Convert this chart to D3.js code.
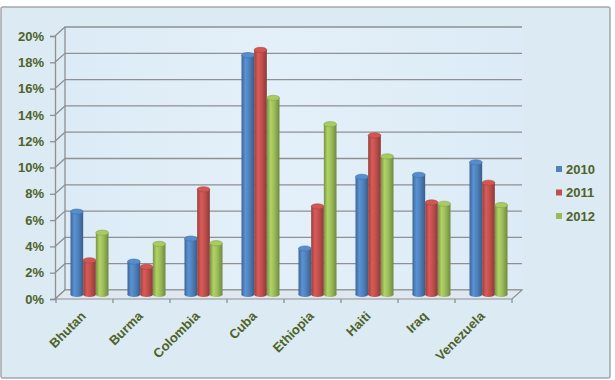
<!DOCTYPE html>
<html>
<head>
<meta charset="utf-8">
<script src="https://cdn.jsdelivr.net/npm/d3@7"></script>
<style>
  body { margin: 0; background: #fff; }
  svg { display: block; font-family: "Liberation Sans", Arial, sans-serif; }
</style>
</head>
<body>
<div id="chart"></div>
<script>
// data
const countries = ["Bhutan", "Burma", "Colombia", "Cuba", "Ethiopia", "Haiti", "Iraq", "Venezuela"];
const years = ["2010", "2011", "2012"];
const v2010 = [0.063, 0.025, 0.0425, 0.182, 0.035, 0.0895, 0.091, 0.1005];
const v2011 = [0.026, 0.021, 0.080, 0.186, 0.067, 0.121, 0.070, 0.085];
const v2012 = [0.047, 0.0385, 0.039, 0.1495, 0.1295, 0.105, 0.069, 0.068];
const yTicks = [0, 0.02, 0.04, 0.06, 0.08, 0.10, 0.12, 0.14, 0.16, 0.18, 0.20];
const colors = ["#4f81bd", "#c0504d", "#9bbb59"];

const series = [v2010, v2011, v2012];
const width = 615, height = 380;
const depth = {dx: 10, dy: -9};   // back-wall offset
const labelColor = "#4f6228";
const gridColor = "#8e9093";

const svg = d3.select("#chart").append("svg")
    .attr("width", width)
    .attr("height", height);

const defs = svg.append("defs");

// chart area
svg.append("rect")
    .attr("x", 1).attr("y", 7)
    .attr("width", 609).attr("height", 371)
    .attr("rx", 2)
    .attr("fill", "#dbeaf3")
    .attr("stroke", "#a5a7a9")
    .attr("stroke-width", 1.5);

const xScale = d3.scaleBand()
    .domain(countries)
    .range([56, 512]);

const yScale = d3.scaleLinear()
    .domain([0, 0.20])
    .range([299, 36]);

const inner = d3.scaleBand()
    .domain(years)
    .range([0, xScale.bandwidth() * 2 / 3]);

// back wall
const wallGrad = defs.append("linearGradient").attr("id", "wall")
    .attr("x1", "0").attr("x2", "1").attr("y1", "0").attr("y2", "0");
wallGrad.append("stop").attr("offset", "0%").attr("stop-color", "#dcebf6");
wallGrad.append("stop").attr("offset", "45%").attr("stop-color", "#e4f0f9");
wallGrad.append("stop").attr("offset", "100%").attr("stop-color", "#dcebf6");

const x0 = xScale.range()[0] - 1, x1 = xScale.range()[1];
svg.append("rect")
    .attr("x", x0 + depth.dx).attr("y", yScale(0.20) + depth.dy)
    .attr("width", x1 - x0)
    .attr("height", yScale(0) - yScale(0.20))
    .attr("fill", "url(#wall)");

// gridlines: side wall diagonal + back wall
const grid = svg.append("g").attr("stroke", gridColor).attr("stroke-width", 1.3).attr("fill", "none");
yTicks.forEach(t => {
    const y = yScale(t);
    grid.append("path")
        .attr("d", `M${x0},${y}L${x0 + depth.dx},${y + depth.dy}L${x1 + depth.dx},${y + depth.dy}`);
});
// side wall back edge
grid.append("line")
    .attr("x1", x0 + depth.dx).attr("x2", x0 + depth.dx)
    .attr("y1", yScale(0.20) + depth.dy).attr("y2", yScale(0) + depth.dy);

// floor
svg.append("path")
    .attr("d", `M${x0},${yScale(0)}L${x1},${yScale(0)}L${x1 + depth.dx},${yScale(0) + depth.dy}L${x0 + depth.dx},${yScale(0) + depth.dy}Z`)
    .attr("fill", "#dfe8ee")
    .attr("stroke", gridColor)
    .attr("stroke-width", 1.2);

// y axis
const yAxis = svg.append("g")
    .attr("transform", `translate(${x0},0)`)
    .call(d3.axisLeft(yScale).tickValues(yTicks).tickFormat(d3.format(".0%")).tickSize(5).tickPadding(6));
yAxis.select(".domain").attr("stroke", gridColor).attr("stroke-width", 1.3);
yAxis.selectAll(".tick line").attr("stroke", gridColor).attr("stroke-width", 1.3);
yAxis.selectAll(".tick text")
    .attr("fill", labelColor)
    .style("font-size", "13px")
    .style("font-weight", "bold")
    .style("font-family", "Liberation Sans, Arial, sans-serif");

// x axis ticks at category boundaries
const xt = svg.append("g").attr("stroke", gridColor).attr("stroke-width", 1.3);
countries.forEach(c => {
    const x = xScale(c);
    xt.append("line").attr("x1", x).attr("x2", x).attr("y1", yScale(0)).attr("y2", yScale(0) + 4);
});
xt.append("line").attr("x1", x1).attr("x2", x1).attr("y1", yScale(0)).attr("y2", yScale(0) + 4);

// cylinder gradients
colors.forEach((col, i) => {
    const g = defs.append("linearGradient").attr("id", "cyl" + i)
        .attr("x1", "0").attr("x2", "1").attr("y1", "0").attr("y2", "0");
    const c = d3.color(col);
    g.append("stop").attr("offset", "0%").attr("stop-color", c.darker(0.7));
    g.append("stop").attr("offset", "30%").attr("stop-color", c.brighter(0.35));
    g.append("stop").attr("offset", "60%").attr("stop-color", col);
    g.append("stop").attr("offset", "100%").attr("stop-color", c.darker(0.9));
});

// bars
const base = yScale(0) + depth.dy / 2;
const bw = inner.bandwidth();
const ry = 2.6;
const bars = svg.append("g");
countries.forEach((c, ci) => {
    years.forEach((yr, si) => {
        const v = series[si][ci];
        const x = xScale(c) + xScale.bandwidth() / 6 + inner(yr) + depth.dx / 2;
        const top = yScale(v) + depth.dy / 2;
        const g = bars.append("g");
        g.append("ellipse")
            .attr("cx", x + bw / 2).attr("cy", base)
            .attr("rx", bw / 2).attr("ry", ry)
            .attr("fill", `url(#cyl${si})`);
        g.append("rect")
            .attr("x", x).attr("y", top)
            .attr("width", bw).attr("height", base - top)
            .attr("fill", `url(#cyl${si})`);
        g.append("ellipse")
            .attr("cx", x + bw / 2).attr("cy", top)
            .attr("rx", bw / 2).attr("ry", ry)
            .attr("fill", d3.color(colors[si]).brighter(0.25))
            .attr("stroke", d3.color(colors[si]).darker(0.4))
            .attr("stroke-width", 0.6);
    });
});

// x labels
svg.append("g").selectAll("text")
    .data(countries)
    .join("text")
    .attr("transform", d => `translate(${xScale(d) + xScale.bandwidth() / 2 + 2},${yScale(0) + 18}) rotate(-45)`)
    .attr("text-anchor", "end")
    .attr("fill", labelColor)
    .style("font-size", "13px")
    .style("font-weight", "bold")
    .text(d => d);

// legend
const legend = svg.append("g").attr("transform", "translate(556,169)");
years.forEach((yr, i) => {
    const g = legend.append("g").attr("transform", `translate(0,${i * 23.5})`);
    g.append("rect").attr("x", 0).attr("y", -3).attr("width", 6).attr("height", 6).attr("fill", colors[i]);
    g.append("text")
        .attr("x", 10).attr("y", 4.5)
        .attr("fill", labelColor)
        .style("font-size", "13px")
        .style("font-weight", "bold")
        .text(yr);
});
</script>
</body>
</html>
